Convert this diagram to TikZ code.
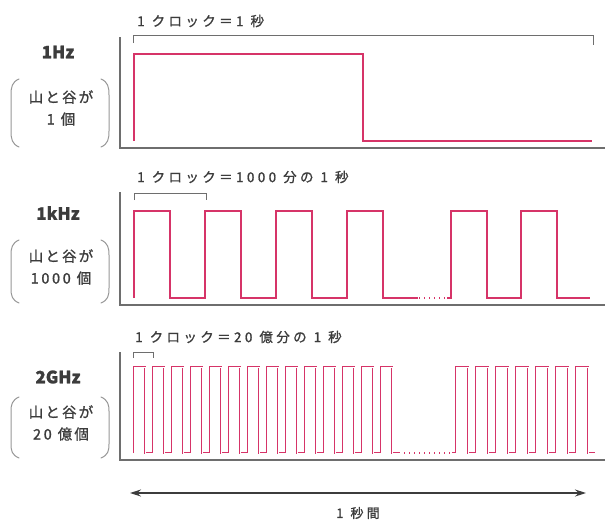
\documentclass[tikz,border=0pt]{standalone}
\usepackage{fontspec}
\newfontfamily\jp{Noto Sans CJK JP}[FakeBold=1.2]
\newfontfamily\jpsp{Noto Sans CJK JP}[LetterSpace=25,FakeBold=1.2]
\newfontfamily\jpmid{Noto Sans CJK JP}[LetterSpace=15,FakeBold=1.2]
\newfontfamily\jpdig{Noto Sans CJK JP}[LetterSpace=18,FakeBold=1.2]
\usetikzlibrary{arrows.meta}
\definecolor{wave}{RGB}{214,52,104}
\definecolor{axisgray}{RGB}{110,110,110}
\definecolor{txt}{RGB}{60,60,60}
\definecolor{paren}{RGB}{150,150,150}
\tikzset{
  axisline/.style={draw=axisgray,line width=1.3pt},
  bracketline/.style={draw=axisgray,line width=1pt},
  waveline/.style={draw=wave,line width=1.8pt,line join=miter},
  fastwave/.style={draw=wave,line width=1pt,double=white,double distance=0.9pt,line join=miter},
  dotline/.style={draw=wave,line width=1.4pt,dash pattern=on 1.4pt off 3.6pt},
  parenline/.style={draw=paren,line width=1pt,line cap=round},
  freq/.style={text=txt,font=\jp\bfseries\fontsize{17}{20}\selectfont,inner sep=0pt},
  cnt/.style={text=txt,font=\jpmid\fontsize{14.5}{22}\selectfont,align=center,inner sep=0pt},
  clk/.style={text=txt,font=\jpsp\fontsize{13.5}{15}\selectfont,anchor=west,inner sep=0pt},
}
\newcommand\dgc[1]{{\jpdig #1}}
\newcommand\gapsp{\kern7pt\relax}
\begin{document}
\begin{tikzpicture}[x=1pt,y=-1pt]
\useasboundingbox (0,0) rectangle (605,520);
% ---------- panel 1 ----------
\coordinate (a1t) at (120,37);
\coordinate (a1o) at (120,148);
\coordinate (a1e) at (605,148);
\draw[axisline] (a1t) -- (a1o) -- (a1e);
\node[clk] (c1) at (137,21) {1\gapsp クロック＝1\gapsp 秒};
\coordinate (b1a) at (133,43);
\coordinate (b1b) at (593,45);
\draw[bracketline] (b1a) -- (133,35) -- (593,35) -- (b1b);
\draw[waveline] (134,141) -- (134,54) -- (363,54) -- (363,141) -- (592,141);
\node[freq] (f1) at (58,52) {1Hz};
\node[cnt] (n1) at (61,108) {山と谷が\\\dgc{1}\kern6pt\relax 個};
\draw[parenline] (19,79) .. controls (12,82) and (11,87) .. (11,95) -- (11,131) .. controls (11,139) and (12,144) .. (19,147);
\draw[parenline] (101,79) .. controls (108,82) and (109,87) .. (109,95) -- (109,131) .. controls (109,139) and (108,144) .. (101,147);
% ---------- panel 2 ----------
\coordinate (a2t) at (120,192);
\coordinate (a2o) at (120,305);
\coordinate (a2e) at (605,305);
\draw[axisline] (a2t) -- (a2o) -- (a2e);
\node[clk] (c2) at (137,177) {1\gapsp クロック＝1000\gapsp 分の\gapsp 1\gapsp 秒};
\coordinate (b2a) at (134,200);
\coordinate (b2b) at (206,200);
\draw[bracketline] (b2a) -- (134,193) -- (206,193) -- (b2b);
\draw[waveline] (134,298) \foreach \k in {0,...,3} {
   -- ({134+71*\k},211) -- ({170+71*\k},211) -- ({170+71*\k},298) -- ({205+71*\k},298) } ;
\draw[waveline] (383,298) -- (395,298);
\draw[dotline] (399,298) -- (447,298);
\draw[waveline] (447,298) -- (451,298) -- (451,211) -- (487,211) -- (487,298) -- (521,298) -- (521,211) -- (557,211) -- (557,298) -- (590,298);
\node[freq] (f2) at (58,213) {1kHz};
\node[cnt] (n2) at (61,267) {山と谷が\\\dgc{1000}\kern6pt\relax 個};
\draw[parenline] (19,240) .. controls (12,243) and (11,248) .. (11,255) -- (11,288) .. controls (11,296) and (12,300) .. (19,303);
\draw[parenline] (101,240) .. controls (108,243) and (109,248) .. (109,255) -- (109,288) .. controls (109,296) and (108,300) .. (101,303);
% ---------- panel 3 ----------
\coordinate (a3t) at (120,352);
\coordinate (a3o) at (120,460);
\coordinate (a3e) at (605,460);
\draw[axisline] (a3t) -- (a3o) -- (a3e);
\node[clk] (c3) at (135,337) {1\gapsp クロック＝20\gapsp 億分の\gapsp 1\gapsp 秒};
\coordinate (b3a) at (133,358);
\coordinate (b3b) at (153,358);
\draw[bracketline] (b3a) -- (133,352) -- (153,352) -- (b3b);
\draw[fastwave] (134,453) \foreach \k in {0,...,13} {
   -- ({134+19*\k},367) -- ({145+19*\k},367) -- ({145+19*\k},453) -- ({153+19*\k},453) } -- (400,453);
\draw[dotline] (404,453) -- (452,453);
\draw[fastwave] (452,453) \foreach \k in {0,...,6} {
   -- ({456+20*\k},453) -- ({456+20*\k},367) -- ({468+20*\k},367) -- ({468+20*\k},453) } -- (595,453);
\node[freq] (f3) at (58,377) {2GHz};
\node[cnt] (n3) at (61,423) {山と谷が\\\dgc{20}\kern6pt\relax 億個};
\draw[parenline] (19,397) .. controls (12,400) and (11,405) .. (11,411) -- (11,444) .. controls (11,451) and (12,455) .. (19,458);
\draw[parenline] (101,397) .. controls (108,400) and (109,405) .. (109,411) -- (109,444) .. controls (109,451) and (108,455) .. (101,458);
% ---------- 1 second arrow ----------
\coordinate (arL) at (130,493);
\coordinate (arR) at (586,493);
\draw[draw=txt,line width=1.2pt,{Stealth[length=11pt,width=7pt]}-{Stealth[length=11pt,width=7pt]}] (arL) -- (arR);
\node[text=txt,font=\jpsp\fontsize{13}{15}\selectfont,inner sep=0pt] (sec) at (358,513) {1\gapsp 秒間};
\end{tikzpicture}
\end{document}
